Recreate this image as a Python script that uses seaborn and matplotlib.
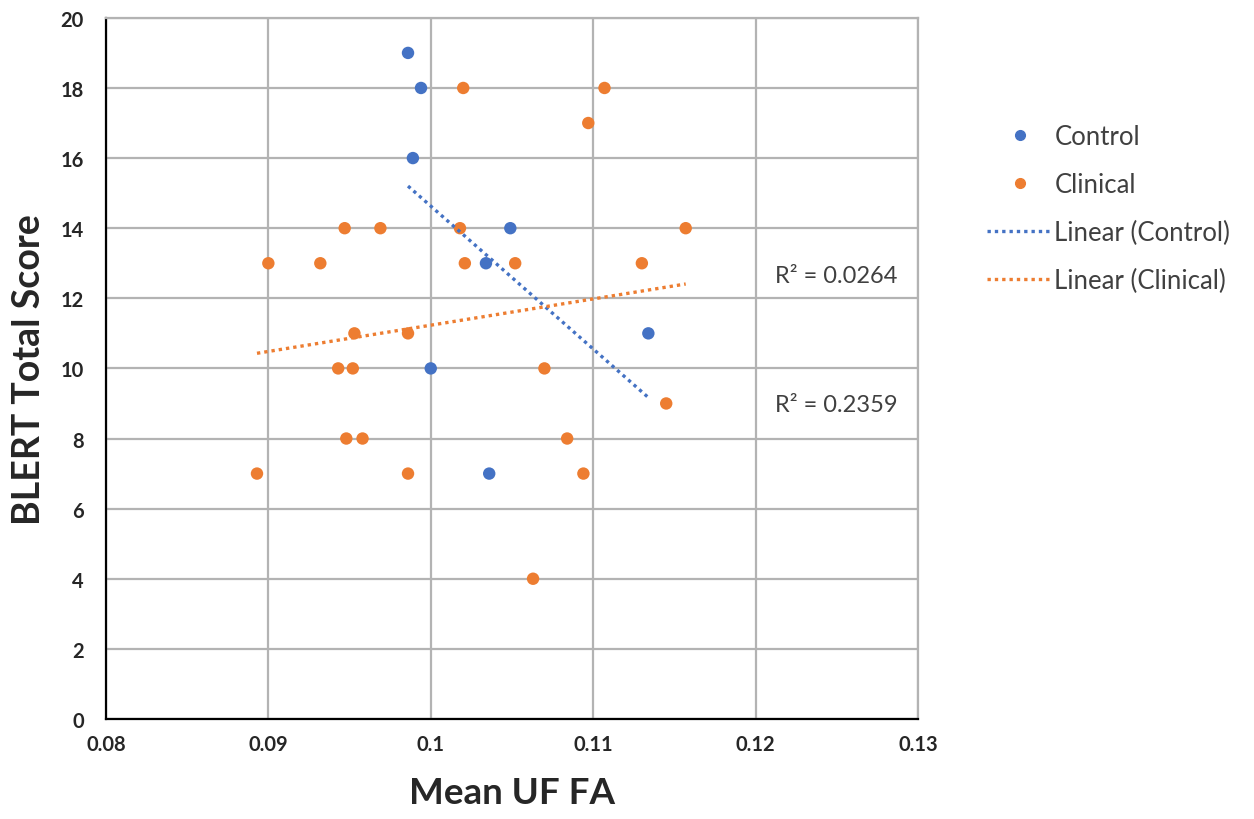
import numpy as np
import pandas as pd
import seaborn as sns
import matplotlib.pyplot as plt
from matplotlib.lines import Line2D

# DATA
control_fa = [0.0986, 0.0994, 0.0989, 0.1049, 0.1034, 0.1134, 0.1000, 0.1036]
control_score = [19, 18, 16, 14, 13, 11, 10, 7]
clinical_fa = [0.1020, 0.1107, 0.1097, 0.0947, 0.0969, 0.1018, 0.1157, 0.0900,
               0.0932, 0.1021, 0.1052, 0.1130, 0.0953, 0.0986, 0.0943, 0.0952,
               0.1070, 0.1145, 0.0948, 0.0958, 0.1084, 0.0893, 0.0986, 0.1094,
               0.1063]
clinical_score = [18, 18, 17, 14, 14, 14, 14, 13,
                  13, 13, 13, 13, 11, 11, 10, 10,
                  10, 9, 8, 8, 8, 7, 7, 7,
                  4]
groups = ['Control', 'Clinical']
r2_labels = ['R² = 0.2359', 'R² = 0.0264']
x_ticks = [0.08, 0.09, 0.1, 0.11, 0.12, 0.13]
x_tick_labels = ['0.08', '0.09', '0.1', '0.11', '0.12', '0.13']
y_ticks = list(range(0, 21, 2))

df = pd.DataFrame({
    'FA': control_fa + clinical_fa,
    'Score': control_score + clinical_score,
    'Group': ['Control'] * len(control_fa) + ['Clinical'] * len(clinical_fa),
})

colors = {'Control': '#4472C4', 'Clinical': '#ED7D31'}

sns.set_style('white')
plt.rcParams['font.family'] = ['Lato', 'DejaVu Sans']

fig = plt.figure(figsize=(12.54, 8.2), dpi=100)
ax = fig.add_axes([0.0845, 0.122, 0.6475, 0.855])

sns.scatterplot(data=df, x='FA', y='Score', hue='Group', palette=colors,
                s=80, linewidth=0, ax=ax, legend=False, zorder=3)

# Linear trendlines
for g in groups:
    sub = df[df['Group'] == g]
    sns.regplot(data=sub, x='FA', y='Score', scatter=False, ci=None, truncate=True,
                color=colors[g], ax=ax,
                line_kws=dict(ls=(0, (1, 1.2)), lw=2.4, zorder=4))

ax.set_xlim(0.08, 0.13)
ax.set_ylim(0, 20)
ax.set_xticks(x_ticks)
ax.set_xticklabels(x_tick_labels)
ax.set_yticks(y_ticks)
ax.grid(True, color='#b3b3b3', lw=1.6)
ax.set_axisbelow(True)
for side in ['top', 'right']:
    ax.spines[side].set_color('#b3b3b3')
    ax.spines[side].set_linewidth(1.6)
for side in ['left', 'bottom']:
    ax.spines[side].set_color('black')
    ax.spines[side].set_linewidth(1.6)
ax.tick_params(axis='both', length=0, labelsize=14.5)
ax.tick_params(axis='x', pad=11)
ax.tick_params(axis='y', pad=16)
for lbl in ax.get_xticklabels() + ax.get_yticklabels():
    lbl.set_fontweight('bold')
ax.set_xlabel('Mean UF FA', fontsize=26.5, fontweight='bold', labelpad=16)
ax.set_ylabel('BLERT Total Score', fontsize=27, fontweight='bold', labelpad=10)

# R² labels
ax.text(0.1212, 8.96, r2_labels[0], fontsize=17, color='#404040', va='center')
ax.text(0.1212, 12.64, r2_labels[1], fontsize=17, color='#404040', va='center')

handles = [
    Line2D([], [], ls='none', marker='o', ms=7, color=colors['Control']),
    Line2D([], [], ls='none', marker='o', ms=7, color=colors['Clinical']),
    Line2D([], [], ls=(0, (1, 1.2)), lw=2.4, color=colors['Control']),
    Line2D([], [], ls=(0, (1, 1.2)), lw=2.4, color=colors['Clinical']),
]
labels = groups + ['Linear (Control)', 'Linear (Clinical)']
fig.legend(handles, labels, loc='upper left', bbox_to_anchor=(0.769, 0.876),
           frameon=False, fontsize=18.5, labelcolor='#404040',
           handlelength=2.5, handletextpad=0.1, labelspacing=0.89)

fig.savefig('out.png', dpi=100)
